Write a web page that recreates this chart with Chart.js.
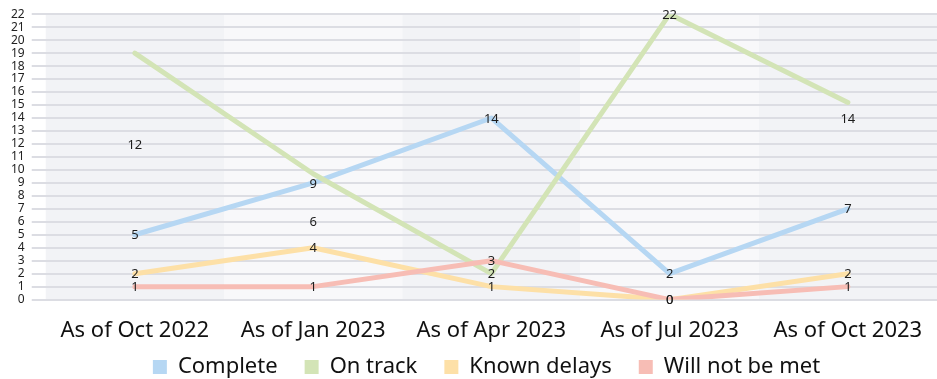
<!DOCTYPE html>
<html>
<head>
<meta charset="utf-8">
<script src="https://cdn.jsdelivr.net/npm/chart.js@4/dist/chart.umd.min.js"></script>
<style>
  html, body { margin: 0; padding: 0; background: #fff; }
  #wrap { width: 937px; height: 379px; position: relative; }
</style>
</head>
<body>
<div id="wrap"><canvas id="milestones-chart"></canvas></div>
<script>
const periods = ['As of Oct 2022', 'As of Jan 2023', 'As of Apr 2023', 'As of Jul 2023', 'As of Oct 2023'];

const complete = [5, 9, 14, 2, 7];
const onTrackLine = [19, 9.7, 2, 22, 15.2];
const onTrackLabels = [12, 6, 2, 22, 14];
const knownDelays = [2, 4, 1, 0, 2];
const willNotBeMet = [1, 1, 3, 0, 1];

const yTicks = Array.from({ length: 23 }, (_, i) => i);

const FONT = '"Noto Sans", "Open Sans", sans-serif';

// alternating column bands behind the grid
const bandsPlugin = {
    id: 'bands',
    beforeDraw(chart) {
        const { ctx, chartArea, scales } = chart;
        const x = scales.x;
        const step = x.getPixelForValue(1) - x.getPixelForValue(0);
        ctx.save();
        periods.forEach((p, i) => {
            const c = x.getPixelForValue(i);
            ctx.fillStyle = i % 2 === 0 ? '#f2f3f6' : '#f8f8fa';
            ctx.fillRect(c - step / 2, chartArea.top, step, chartArea.bottom - chartArea.top);
        });
        ctx.restore();
    }
};

// value labels centred on the points
const valueLabels = {
    id: 'valueLabels',
    afterDatasetsDraw(chart) {
        const { ctx } = chart;
        ctx.save();
        ctx.font = '13px ' + FONT;
        ctx.fillStyle = '#1c1c1c';
        ctx.textAlign = 'center';
        ctx.textBaseline = 'middle';
        chart.data.datasets.forEach((ds, di) => {
            if (!ds.showValues) return;
            chart.getDatasetMeta(di).data.forEach((pt, i) => {
                ctx.fillText(String(ds.data[i]), pt.x, pt.y + 1);
            });
        });
        ctx.restore();
    }
};

// pull the legend row up closer to the axis labels and centre it under the plot
const LEGEND_LIFT = 19;
const LEGEND_SHIFT = 16;
const liftLegend = {
    id: 'liftLegend',
    afterLayout(chart) {
        const lg = chart.legend;
        if (!lg) return;
        lg.top -= LEGEND_LIFT;
        lg.bottom -= LEGEND_LIFT;
        lg.left += LEGEND_SHIFT;
        lg.right += LEGEND_SHIFT;
    }
};

function lineSet(label, data, color, order) {
    return {
        label: label,
        data: data,
        borderColor: color,
        backgroundColor: color,
        borderWidth: 5,
        borderCapStyle: 'round',
        borderJoinStyle: 'round',
        tension: 0,
        pointRadius: 0,
        order: order,
        showValues: true
    };
}

const datasets = [
    lineSet('Complete', complete, '#b6d7f3', 4),
    Object.assign(lineSet('On track', onTrackLine, '#d3e4b6', 3), { showValues: false }),
    lineSet('Known delays', knownDelays, '#fde0a7', 2),
    lineSet('Will not be met', willNotBeMet, '#f7bdb5', 1),
    {
        label: 'On track values',
        data: onTrackLabels,
        showLine: false,
        pointRadius: 0,
        borderWidth: 0,
        order: 0,
        showValues: true,
        inLegend: false
    }
];

new Chart(document.getElementById('milestones-chart'), {
    type: 'line',
    data: { labels: periods, datasets: datasets },
    options: {
        responsive: true,
        maintainAspectRatio: false,
        animation: false,
        layout: { padding: { left: 4, top: 12, right: 0, bottom: -28 } },
        plugins: {
            tooltip: { enabled: false },
            legend: {
                position: 'bottom',
                labels: {
                    font: { family: FONT, size: 22 },
                    color: '#111',
                    boxWidth: 14,
                    boxHeight: 14,
                    padding: 27,
                    generateLabels: (chart) => chart.data.datasets
                        .map((ds, i) => ({ ds, i }))
                        .filter(o => o.ds.inLegend !== false)
                        .map(o => ({
                            text: o.ds.label,
                            fillStyle: o.ds.borderColor,
                            strokeStyle: o.ds.borderColor,
                            lineWidth: 0,
                            datasetIndex: o.i,
                            fontColor: '#111'
                        }))
                }
            }
        },
        scales: {
            x: {
                offset: true,
                grid: { display: true, drawOnChartArea: false, drawTicks: true, tickLength: 14, color: 'rgba(0,0,0,0)' },
                border: { display: false },
                ticks: {
                    padding: 4,
                    color: '#111',
                    font: { family: FONT, size: 22 },
                    maxRotation: 0
                }
            },
            y: {
                min: 0,
                max: 22,
                afterBuildTicks: (axis) => { axis.ticks = yTicks.map(v => ({ value: v })); },
                grid: { color: '#dcdde3', lineWidth: 2, drawTicks: true, tickLength: 14 },
                border: { display: false },
                ticks: {
                    autoSkip: false,
                    padding: 7,
                    color: '#222',
                    font: { family: FONT, size: 12 }
                }
            }
        }
    },
    plugins: [liftLegend, bandsPlugin, valueLabels]
});
</script>
</body>
</html>
